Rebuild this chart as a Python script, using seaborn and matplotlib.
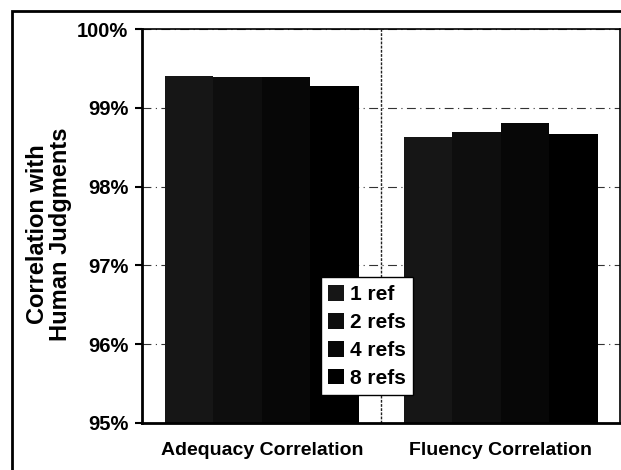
import numpy as np
import pandas as pd
import matplotlib
matplotlib.use("Agg")
import matplotlib.pyplot as plt
import seaborn as sns
from matplotlib.ticker import PercentFormatter

# values (fraction)
metrics = ["Adequacy Correlation", "Fluency Correlation"]
refs = ["1 ref", "2 refs", "4 refs", "8 refs"]
adequacy = [0.9941, 0.9939, 0.9939, 0.9928]
fluency = [0.9863, 0.9869, 0.9881, 0.9867]

df = pd.DataFrame({
    "metric": np.repeat(metrics, len(refs)),
    "refs": refs * len(metrics),
    "corr": adequacy + fluency,
})

sns.set_theme(style="white")
plt.rcParams["font.family"] = ["Liberation Sans", "DejaVu Sans"]
plt.rcParams["font.weight"] = "bold"
plt.rcParams["text.color"] = "black"

fig = plt.figure(figsize=(6.21, 4.70), dpi=100)
ax = fig.add_axes([0.229, 0.100, 0.770, 0.838])

colors = ["#161616", "#0e0e0e", "#070707", "#000000"]
sns.barplot(data=df, x="metric", y="corr", hue="refs", palette=colors,
            width=0.81, saturation=1, ax=ax, linewidth=0)

ax.set_ylim(0.95, 1.0)
ax.set_xlim(-0.5, 1.5)
ax.set_yticks(np.arange(0.95, 1.0001, 0.01))
ax.yaxis.set_major_formatter(PercentFormatter(1.0, decimals=0))
ax.set_xticks([0.5], minor=True)
ax.tick_params(axis="x", which="major", length=0, pad=14, labelsize=14)
ax.tick_params(axis="x", which="minor", length=6, width=1.5, direction="inout", color="black")
ax.tick_params(axis="y", length=5, width=1.5, direction="out", color="black",
               labelsize=14.5, left=True, pad=5)
for lab in ax.get_xticklabels() + ax.get_yticklabels():
    lab.set_fontweight("bold")
    lab.set_color("black")

ax.set_axisbelow(True)
ax.yaxis.grid(True, color="#333333", linestyle=(0, (8, 4, 1, 4)), linewidth=0.8)
ax.axvline(0.5, color="#222222", linewidth=1.0, linestyle=(0, (2, 1)), zorder=0)

for side, sp in ax.spines.items():
    sp.set_visible(True)
    sp.set_color("black")
    sp.set_linewidth(1.2)
ax.spines["left"].set_linewidth(2)
ax.spines["bottom"].set_linewidth(2)

ax.set_xlabel("")
ax.set_ylabel("")
fig.text(49 / 621, 1 - 234 / 470, "Correlation with\nHuman Judgments", rotation=90,
         ha="center", va="center", fontsize=17, fontweight="bold", color="black",
         linespacing=1.05)

leg = ax.legend(loc="lower left", bbox_to_anchor=(0.374, 0.071),
                frameon=True, fancybox=False, handlelength=0.75,
                handleheight=0.8, handletextpad=0.3, labelspacing=0.42,
                borderpad=0.35, borderaxespad=0, prop={"weight": "bold", "size": 15})
leg.get_frame().set_edgecolor("black")
leg.get_frame().set_linewidth(1.0)
leg.get_frame().set_alpha(1)
for t in leg.get_texts():
    t.set_color("black")

# outer frame of the figure
fig.patches.append(plt.Rectangle((12 / 621, -0.02), 0.99, 1 - 11 / 470 + 0.02,
                                 transform=fig.transFigure, fill=False,
                                 edgecolor="black", linewidth=2))

fig.savefig("out.png", dpi=100)
